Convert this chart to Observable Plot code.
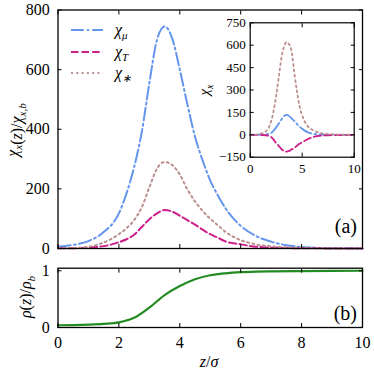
<!DOCTYPE html>
<html><head><meta charset="utf-8">
<script src="https://cdn.jsdelivr.net/npm/d3@7"></script>
<script src="https://cdn.jsdelivr.net/npm/@observablehq/plot@0.6"></script>
<style>
body{margin:0;background:white}
#c{position:relative;width:374px;height:374px;overflow:hidden;background:white}
</style></head><body><div id="c"></div>
<script>
// ---- data ----
const z      = [0,0.5,1,1.5,2,2.25,2.5,2.75,3,3.25,3.5,3.75,4,4.25,4.5,4.75,5,5.25,5.5,6,6.5,7,7.5,8,8.5,9,10];
const chiMu  = [6,12,25,55,118,185,273,390,555,700,745,705,600,483,375,295,228,178,135,76,42,23,11,5,2,1,0];
const chiT   = [0.5,1,3,8,21,31,46,72,98,118,129,124,110,95,80,63,48,36,24,14,6,3,1.5,1,0.5,0.3,0];
const chiStar= [1,2,6,20,48,68,95,138,205,268,290,280,248,198,158,126,100,78,56,28,14,7,4,2,1,0.5,0];

const zIn       = [0,0.5,1,1.5,2,2.25,2.5,2.75,3,3.25,3.5,3.75,4,4.25,4.5,4.75,5,5.25,5.5,6,6.5,7,8,9,10];
const chiMuIn   = [0,0,1,3,12,28,50,75,102,125,133,125,108,92,72,55,40,28,18,7,3,1,0,0,0];
const chiTIn    = [0,0,-1,-3,-14,-32,-55,-75,-95,-108,-113,-108,-97,-88,-73,-60,-50,-40,-30,-16,-8,-5,-2,-1,-0.5];
const chiStarIn = [0,1,8,22,88,160,265,387,515,590,620,605,550,410,290,190,130,88,60,32,17,8,3,1,0];

const zRho = [0,0.5,1,1.5,2,2.5,3,3.5,4,4.5,5,5.5,6,6.5,7,8,9,10];
const rho  = [0.04,0.043,0.05,0.063,0.09,0.17,0.35,0.57,0.73,0.85,0.92,0.955,0.975,0.985,0.99,0.995,0.998,1.0];

const xTicks = [0,2,4,6,8,10];
const yMainTicks = [0,200,400,600,800];
const yInTicks = [-150,0,150,300,450,600,750];
const xInTicks = [0,5,10];
const yRhoTicks = [0,1];

const seriesKeys  = ["mu","T","star"];
const seriesSub   = ["μ","T","∗"];
const seriesColor = ["#6495ED","#CC1F8A","#BC8F8F"];
const seriesDash  = ["12.8,3.2,2,3.2","7.4,3.2","2,3.3"];
const rhoColor = "#228B22";

// ---- tables ----
const mainData = z.map((v,i)=>({z:v, mu:chiMu[i], T:chiT[i], star:chiStar[i]}));
const inData = zIn.map((v,i)=>({z:v, mu:chiMuIn[i], T:chiTIn[i], star:chiStarIn[i]}));
const rhoData = zRho.map((v,i)=>({z:v, rho:rho[i]}));

const root = document.getElementById("c");
function place(el,left,top){el.style.position="absolute";el.style.left=left+"px";el.style.top=top+"px";root.appendChild(el);}
const FONT = "Liberation Serif";

function lines(data, sw){
  return seriesKeys.map((k,i)=>Plot.line(data,{x:"z",y:k,stroke:seriesColor[i],strokeWidth:sw,strokeDasharray:seriesDash[i],curve:"monotone-x"}));
}

// main panel
const main = Plot.plot({
  width:374, height:258, marginLeft:57.5, marginRight:12, marginTop:9.5, marginBottom:10,
  x:{domain:[0,10]}, y:{domain:[0,800]},
  style:{background:"transparent", fontFamily:FONT, fontSize:"16px", color:"black", overflow:"visible"},
  marks:[
    ...lines(mainData, 2),
    Plot.axisY({ticks:yMainTicks, tickSize:-4, tickPadding:12.2, label:null, tickFormat:d=>String(d)}),
    Plot.axisY({anchor:"right", ticks:yMainTicks, tickSize:-4, tickFormat:()=>"", label:null}),
    Plot.axisX({ticks:xTicks, tickSize:-4, tickFormat:()=>"", label:null}),
    Plot.axisX({anchor:"top", ticks:xTicks, tickSize:-4, tickFormat:()=>"", label:null}),
    Plot.frame({stroke:"black", strokeWidth:1.3})
  ]
});
place(main,0,0);

// inset
const inset = Plot.plot({
  width:165, height:172, marginLeft:54.7, marginRight:6.3, marginTop:14.3, marginBottom:23.3,
  x:{domain:[0,10]}, y:{domain:[-150,750]},
  style:{background:"transparent", fontFamily:FONT, fontSize:"13px", color:"black", overflow:"visible"},
  marks:[
    Plot.frame({fill:"white"}),
    ...lines(inData, 1.8),
    Plot.axisY({ticks:yInTicks, tickSize:-4, tickPadding:8.4, label:null, tickFormat:d=>d<0?"−"+Math.abs(d):String(d)}),
    Plot.axisY({anchor:"right", ticks:yInTicks, tickSize:-4, tickFormat:()=>"", label:null}),
    Plot.axisX({ticks:xInTicks, tickSize:-4, tickPadding:10.3, label:null, tickFormat:d=>String(d)}),
    Plot.axisX({anchor:"top", ticks:xInTicks, tickSize:-4, tickFormat:()=>"", label:null}),
    Plot.frame({stroke:"black", strokeWidth:1.2})
  ]
});
place(inset,195,8);

// lower panel
const lower = Plot.plot({
  width:374, height:99, marginLeft:57.5, marginRight:12, marginTop:9.7, marginBottom:30,
  x:{domain:[0,10]}, y:{domain:[0,1.045]},
  style:{background:"transparent", fontFamily:FONT, fontSize:"16px", color:"black", overflow:"visible"},
  marks:[
    Plot.line(rhoData,{x:"z",y:"rho",stroke:rhoColor,strokeWidth:2.2,curve:"monotone-x"}),
    Plot.axisY({ticks:yRhoTicks, tickSize:-4, tickPadding:12.2, label:null, tickFormat:d=>String(d)}),
    Plot.axisY({anchor:"right", ticks:yRhoTicks, tickSize:-4, tickFormat:()=>"", label:null}),
    Plot.axisX({ticks:xTicks, tickSize:-4, tickPadding:13, label:null, tickFormat:d=>String(d)}),
    Plot.axisX({anchor:"top", ticks:xTicks, tickSize:-4, tickFormat:()=>"", label:null}),
    Plot.frame({stroke:"black", strokeWidth:1.3})
  ]
});
place(lower,0,258);

// overlay: axis labels, panel tags, legend
const ov = d3.create("svg").attr("width",374).attr("height",374).style("pointer-events","none");
const it = s=>`<tspan font-style="italic">${s}</tspan>`;
const sub = (s,fs)=>`<tspan font-style="italic" font-size="${fs}" dy="4">${s}</tspan><tspan dy="-4"></tspan>`;
ov.append("text").attr("transform","translate(18,130) rotate(-90)").attr("text-anchor","middle").attr("font-size",16)
  .html(it("χ")+sub("x",11)+"("+it("z")+")/"+it("χ")+sub("x,b",11));
ov.append("text").attr("transform","translate(31,297) rotate(-90)").attr("text-anchor","middle").attr("font-size",16)
  .html(it("ρ")+"("+it("z")+")/"+it("ρ")+sub("b",11));
ov.append("text").attr("transform","translate(209,90) rotate(-90)").attr("text-anchor","middle").attr("font-size",15)
  .html(it("χ")+sub("x",10));
ov.append("text").attr("x",209).attr("y",367).attr("text-anchor","middle").attr("font-size",16)
  .html(it("z")+"/"+it("σ"));
ov.append("text").attr("x",357).attr("y",233).attr("text-anchor","end").attr("font-size",20).text("(a)");
ov.append("text").attr("x",357).attr("y",320).attr("text-anchor","end").attr("font-size",20).text("(b)");
const legY = [30,52,73];
seriesKeys.forEach((k,i)=>{
  ov.append("line").attr("x1",71).attr("x2",103).attr("y1",legY[i]).attr("y2",legY[i])
    .attr("stroke",seriesColor[i]).attr("stroke-width",2).attr("stroke-dasharray",seriesDash[i]);
  ov.append("text").attr("x",115).attr("y",legY[i]+5).attr("font-size",16)
    .html(it("χ")+sub(seriesSub[i],11));
});
place(ov.node(),0,0);

d3.select(root).selectAll("svg").attr("font-family", FONT);
</script></body></html>
